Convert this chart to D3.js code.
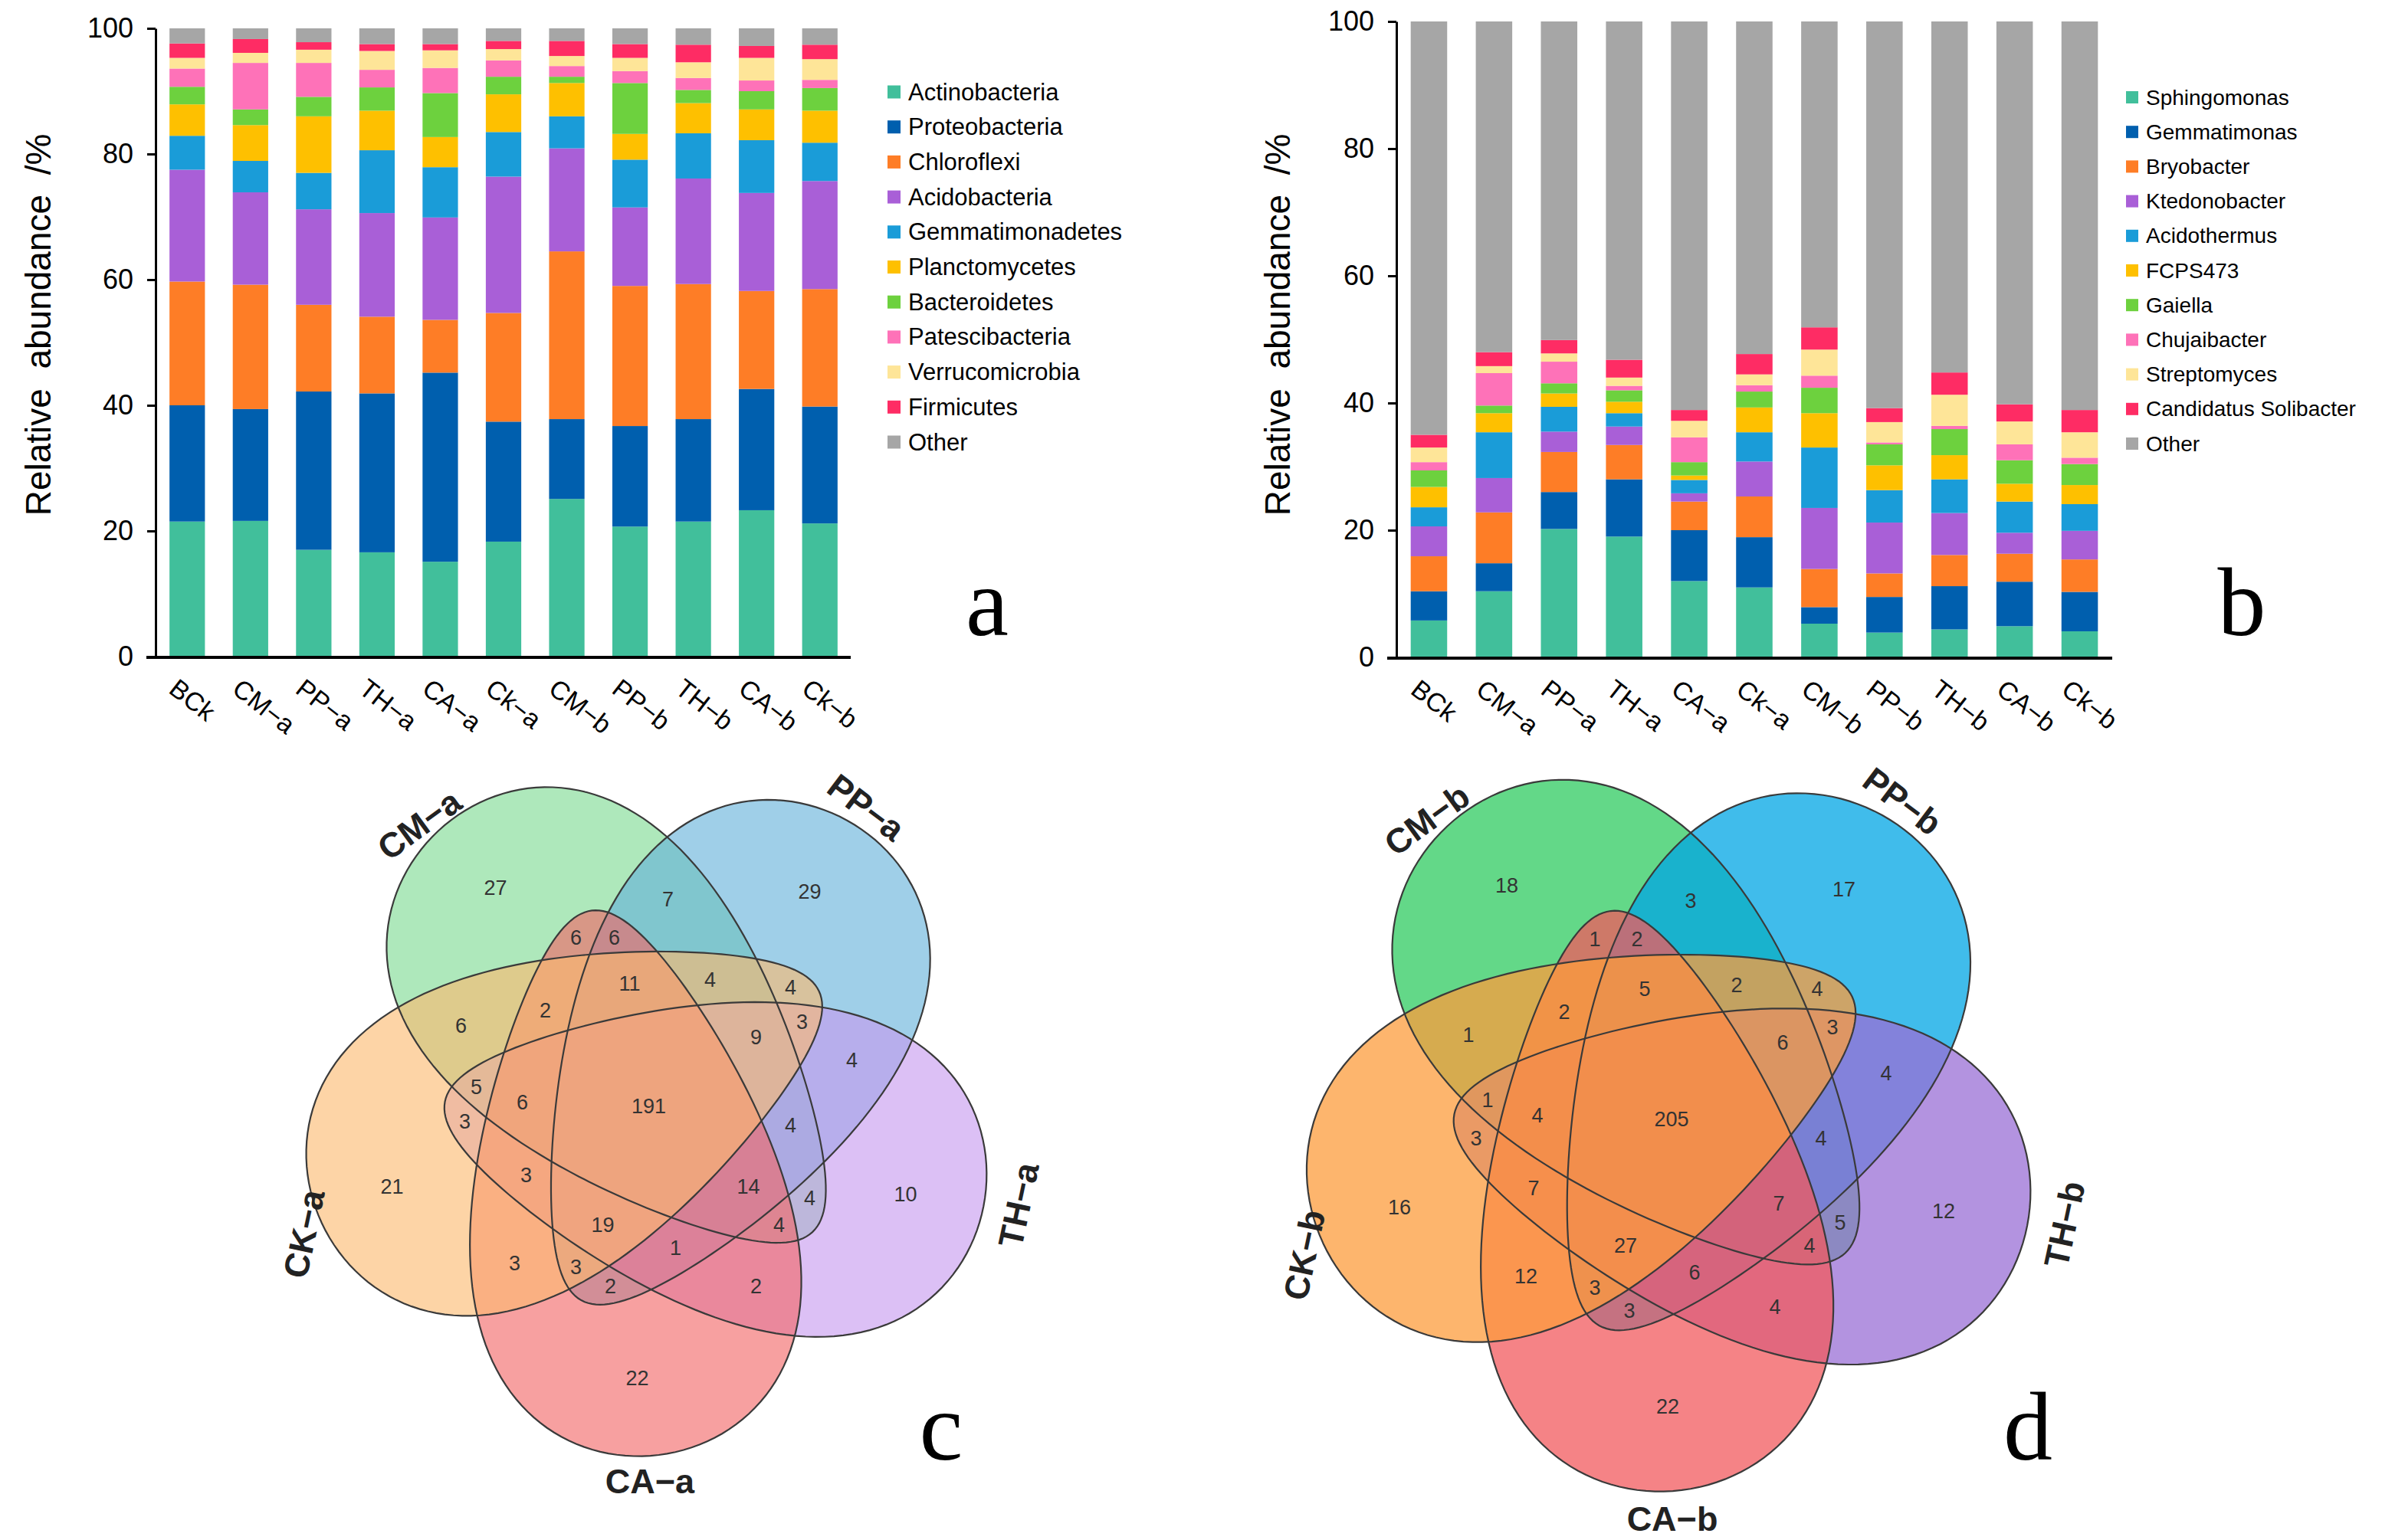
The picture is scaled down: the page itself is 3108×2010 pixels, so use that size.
<!doctype html>
<html>
<head>
  <meta charset="utf-8">
  <title>Community composition and shared OTUs</title>
  <script src="https://cdnjs.cloudflare.com/ajax/libs/d3/7.8.5/d3.min.js"></script>
  <style>
    html, body { margin: 0; padding: 0; background: #fff; }
    svg text { font-family: "Liberation Sans", Arial, sans-serif; }
  </style>
</head>
<body>
<div id="figure"></div>
<script>
// ---- data: bar charts ----
const samples = ["BCk", "CM−a", "PP−a", "TH−a", "CA−a", "Ck−a", "CM−b", "PP−b", "TH−b", "CA−b", "Ck−b"];
const tickValues = [0, 20, 40, 60, 80, 100];

// panel a, phylum level (%)
const phylumNames = ["Actinobacteria", "Proteobacteria", "Chloroflexi", "Acidobacteria", "Gemmatimonadetes",
  "Planctomycetes", "Bacteroidetes", "Patescibacteria", "Verrucomicrobia", "Firmicutes", "Other"];
const actinobacteria   = [21.5, 21.6, 17.0, 16.6, 15.1, 18.3, 25.1, 20.7, 21.5, 23.3, 21.2];
const proteobacteria   = [18.5, 17.8, 25.2, 25.3, 30.1, 19.1, 12.7, 16.0, 16.3, 19.3, 18.6];
const chloroflexi      = [19.7, 19.8, 13.8, 12.2, 8.4, 17.3, 26.7, 22.3, 21.5, 15.6, 18.7];
const acidobacteria    = [17.8, 14.7, 15.2, 16.5, 16.3, 21.7, 16.4, 12.5, 16.8, 15.6, 17.2];
const gemmatimonadetes = [5.4, 5.0, 5.8, 10.0, 8.0, 7.1, 5.1, 7.6, 7.2, 8.4, 6.1];
const planctomycetes   = [5.0, 5.7, 9.0, 6.3, 4.8, 6.0, 5.3, 4.1, 4.8, 4.9, 5.1];
const bacteroidetes    = [2.8, 2.5, 3.1, 3.7, 7.0, 2.8, 1.0, 8.1, 2.1, 2.9, 3.6];
const patescibacteria  = [2.9, 7.4, 5.4, 2.8, 4.0, 2.6, 1.7, 1.9, 1.9, 1.7, 1.3];
const verrucomicrobia  = [1.7, 1.6, 2.1, 3.0, 2.8, 1.8, 1.6, 2.1, 2.5, 3.6, 3.3];
const firmicutes       = [2.3, 2.2, 1.2, 1.1, 1.0, 1.3, 2.4, 2.2, 2.8, 1.9, 2.3];
const otherPhyla       = [2.4, 1.7, 2.2, 2.5, 2.5, 2.0, 2.0, 2.5, 2.6, 2.8, 2.6];

// panel b, genus level (%)
const genusNames = ["Sphingomonas", "Gemmatimonas", "Bryobacter", "Ktedonobacter", "Acidothermus",
  "FCPS473", "Gaiella", "Chujaibacter", "Streptomyces", "Candidatus Solibacter", "Other"];
const sphingomonas  = [5.8, 10.4, 20.2, 19.0, 12.0, 11.0, 5.3, 3.9, 4.4, 4.9, 4.1];
const gemmatimonas  = [4.6, 4.4, 5.8, 9.0, 8.0, 7.9, 2.6, 5.6, 6.8, 7.0, 6.2];
const bryobacter    = [5.5, 8.0, 6.3, 5.4, 4.5, 6.4, 6.0, 3.7, 4.9, 4.4, 5.1];
const ktedonobacter = [4.7, 5.4, 3.2, 2.9, 1.3, 5.5, 9.6, 8.0, 6.6, 3.3, 4.5];
const acidothermus  = [3.0, 7.2, 3.9, 2.1, 2.1, 4.6, 9.5, 5.1, 5.3, 4.9, 4.2];
const fcps473       = [3.2, 3.0, 2.1, 1.8, 0.7, 3.9, 5.4, 3.9, 3.8, 2.8, 3.0];
const gaiella       = [2.6, 1.2, 1.6, 1.8, 2.1, 2.5, 4.0, 3.3, 4.1, 3.7, 3.3];
const chujaibacter  = [1.3, 5.1, 3.4, 0.7, 3.9, 1.0, 1.9, 0.3, 0.5, 2.5, 1.0];
const streptomyces  = [2.3, 1.1, 1.3, 1.3, 2.6, 1.7, 4.1, 3.2, 4.9, 3.6, 4.0];
const solibacter    = [2.0, 2.2, 2.1, 2.8, 1.7, 3.2, 3.5, 2.2, 3.5, 2.7, 3.5];
const otherGenera   = [65.0, 52.0, 50.1, 53.2, 61.1, 52.3, 48.1, 60.8, 55.2, 60.2, 61.1];

const taxonColors = ["#41bf9b", "#005fae", "#fe7d26", "#a95fd7", "#1a9cd8", "#fec000",
  "#6dd13e", "#fe72b8", "#fee598", "#fe2c64", "#a6a6a6"];

// ---- data: Venn diagrams (unique / shared OTUs) ----
const vennSetsA = ["CM−a", "PP−a", "TH−a", "CA−a", "CK−a"];
const vennSetsB = ["CM−b", "PP−b", "TH−b", "CA−b", "CK−b"];
// each region lists the sets (by index) it belongs to
const vennRegions = [
  [0], [1], [2], [3], [4],
  [0, 1], [1, 2], [0, 4], [2, 3], [3, 4], [0, 3], [1, 4], [2, 4], [0, 2], [1, 3],
  [0, 1, 4], [0, 3, 4], [0, 1, 2], [1, 2, 3], [2, 3, 4], [0, 1, 3], [1, 2, 4], [0, 2, 4], [1, 3, 4], [0, 2, 3],
  [0, 1, 3, 4], [0, 1, 2, 4], [0, 2, 3, 4], [0, 1, 2, 3], [1, 2, 3, 4],
  [0, 1, 2, 3, 4]
];
const vennCountsA = [27, 29, 10, 22, 21, 7, 4, 6, 2, 3, 6, 4, 3, 4, 2,
  4, 2, 4, 1, 3, 6, 3, 5, 3, 4, 11, 9, 6, 14, 19, 191];
const vennCountsB = [18, 17, 12, 22, 16, 3, 4, 1, 4, 12, 1, 4, 3, 5, 3,
  2, 2, 4, 6, 7, 2, 3, 1, 3, 4, 5, 6, 4, 7, 27, 205];

// ---- drawing ----
const W = 3108, H = 2010;
const svg = d3.select('#figure').append('svg')
  .attr('width', W).attr('height', H)
  .attr('viewBox', `0 0 ${W} ${H}`);

function drawBars(cfg) {
  const g = svg.append('g');
  const rows = samples.map((s, i) => {
    const r = { sample: s };
    cfg.names.forEach((n, k) => { r[n] = cfg.series[k][i]; });
    return r;
  });
  const layers = d3.stack().keys(cfg.names)(rows);

  const x = d3.scaleBand().domain(samples).range(cfg.xRange)
    .paddingInner(0.44).paddingOuter(0.22);
  const y = d3.scaleLinear().domain([0, 100]).range(cfg.yRange);
  const color = d3.scaleOrdinal().domain(cfg.names).range(taxonColors);

  g.selectAll('g.layer')
    .data(layers)
    .join('g')
    .attr('class', 'layer')
    .attr('fill', d => color(d.key))
    .selectAll('rect')
    .data(d => d)
    .join('rect')
    .attr('x', d => x(d.data.sample))
    .attr('width', x.bandwidth())
    .attr('y', d => y(d[1]))
    .attr('height', d => y(d[0]) - y(d[1]));

  // y axis
  const yAxis = g.append('g')
    .attr('transform', `translate(${cfg.xRange[0]},0)`)
    .call(d3.axisLeft(y).tickValues(tickValues).tickSize(11).tickSizeOuter(0).tickPadding(18));
  yAxis.select('.domain').attr('stroke', '#000').attr('stroke-width', 3);
  yAxis.selectAll('.tick line').attr('stroke', '#000').attr('stroke-width', 3);
  yAxis.selectAll('.tick text')
    .attr('font-size', 36).attr('fill', '#000')
    .attr('font-family', '"Liberation Sans", Arial, sans-serif');

  // x axis
  const xAxis = g.append('g')
    .attr('transform', `translate(0,${cfg.yRange[0]})`)
    .call(d3.axisBottom(x).tickSize(0).tickSizeOuter(0));
  xAxis.select('.domain')
    .attr('stroke', '#000').attr('stroke-width', 4)
    .attr('d', `M${cfg.axisExtent[0]},1H${cfg.axisExtent[1]}`);
  xAxis.selectAll('.tick text')
    .attr('font-size', 34).attr('fill', '#000')
    .attr('font-family', '"Liberation Sans", Arial, sans-serif')
    .attr('text-anchor', 'start')
    .attr('x', 0).attr('y', 0).attr('dy', '0.75em')
    .attr('transform', 'translate(-10,26) rotate(38)');

  // y title
  g.append('text')
    .attr('transform', `translate(${cfg.titleX},424) rotate(-90)`)
    .attr('text-anchor', 'middle')
    .attr('dominant-baseline', 'central')
    .attr('font-size', 46)
    .style('white-space', 'pre')
    .text('Relative  abundance  /%');

  // legend
  const leg = g.append('g');
  const items = leg.selectAll('g')
    .data(cfg.names)
    .join('g')
    .attr('transform', (d, i) => `translate(${cfg.legend.x},${cfg.legend.y0 + i * cfg.legend.dy})`);
  items.append('rect')
    .attr('x', 0).attr('y', -cfg.legend.box / 2)
    .attr('width', cfg.legend.box).attr('height', cfg.legend.box)
    .attr('fill', d => color(d));
  items.append('text')
    .attr('x', cfg.legend.box + 10)
    .attr('dominant-baseline', 'central')
    .attr('font-size', cfg.legend.font)
    .attr('fill', '#000')
    .text(d => d);

  // panel letter
  g.append('text')
    .attr('x', cfg.letter[0]).attr('y', cfg.letter[1])
    .attr('text-anchor', 'middle')
    .style('font-family', '"Liberation Serif", "Times New Roman", serif')
    .attr('font-size', 126)
    .text(cfg.letterText);
}

drawBars({
  names: phylumNames,
  series: [actinobacteria, proteobacteria, chloroflexi, acidobacteria, gemmatimonadetes,
    planctomycetes, bacteroidetes, patescibacteria, verrucomicrobia, firmicutes, otherPhyla],
  xRange: [203, 1111], yRange: [857, 37], axisExtent: [191, 1110],
  titleX: 50,
  legend: { x: 1158, y0: 120, dy: 45.7, box: 17, font: 31 },
  letter: [1288, 829], letterText: 'a'
});

drawBars({
  names: genusNames,
  series: [sphingomonas, gemmatimonas, bryobacter, ktedonobacter, acidothermus,
    fcps473, gaiella, chujaibacter, streptomyces, solibacter, otherGenera],
  xRange: [1822, 2756], yRange: [858, 28], axisExtent: [1810, 2756],
  titleX: 1667,
  legend: { x: 2774, y0: 127, dy: 45.2, box: 16, font: 28 },
  letter: [2925, 829], letterText: 'b'
});

// ---- Venn ----
// five congruent egg shapes (fat at the outer lobe), rotated 72 degrees apart; sizes in units of U
const EGG = { dist: 0.138, a: 0.476, b: 0.268, k: 0.39, twist: 25, n: 160 };
const setLabelPos = [
  { dx: -0.40, dy: -0.49, rot: -36 },
  { dx: 0.375, dy: -0.52, rot: 37 },
  { dx: 0.64, dy: 0.17, rot: -78 },
  { dx: 0.0, dy: 0.65, rot: 0 },
  { dx: -0.60, dy: 0.22, rot: -78 }
];

function drawVenn(cfg) {
  const g = svg.append('g');
  const U = cfg.U, A = EGG.a * U, B = EGG.b * U, D = EGG.dist * U;
  const shapes = cfg.sets.map((name, i) => {
    const phiDeg = -108 + 72 * i;
    const phi = phiDeg * Math.PI / 180;
    const r = (phiDeg - EGG.twist) * Math.PI / 180;
    const cx = cfg.cx + D * Math.cos(phi), cy = cfg.cy + D * Math.sin(phi);
    const c = Math.cos(r), s = Math.sin(r);
    const pts = d3.range(EGG.n).map(j => {
      const t = 2 * Math.PI * j / EGG.n;
      const u = A * Math.cos(t);
      const v = B * Math.sin(t) * (1 + EGG.k * Math.cos(t));
      return [cx + u * c - v * s, cy + u * s + v * c];
    });
    return { name, i, pts, color: cfg.colors[i] };
  });

  const line = d3.line().curve(d3.curveLinearClosed);

  g.selectAll('path.fill')
    .data(shapes)
    .join('path')
    .attr('class', 'fill')
    .attr('d', d => line(d.pts))
    .attr('fill', d => d.color)
    .attr('fill-opacity', cfg.opacity);

  g.selectAll('path.edge')
    .data(shapes)
    .join('path')
    .attr('class', 'edge')
    .attr('d', d => line(d.pts))
    .attr('fill', 'none')
    .attr('stroke', '#3a3a3a')
    .attr('stroke-width', 2.2);

  // find a roomy spot inside every region
  function segDist(px, py, a, b) {
    const vx = b[0] - a[0], vy = b[1] - a[1];
    const wx = px - a[0], wy = py - a[1];
    let t = (wx * vx + wy * vy) / (vx * vx + vy * vy);
    t = Math.max(0, Math.min(1, t));
    const dx = wx - t * vx, dy = wy - t * vy;
    return dx * dx + dy * dy;
  }
  const best = new Map();
  const step = 5, half = 0.72 * U;
  for (let px = cfg.cx - half; px <= cfg.cx + half; px += step) {
    for (let py = cfg.cy - half; py <= cfg.cy + half; py += step) {
      let mask = 0, clear = Infinity;
      shapes.forEach(sh => {
        if (d3.polygonContains(sh.pts, [px, py])) mask |= (1 << sh.i);
        for (let j = 0; j < sh.pts.length; j++) {
          const d2 = segDist(px, py, sh.pts[j], sh.pts[(j + 1) % sh.pts.length]);
          if (d2 < clear) clear = d2;
        }
      });
      if (!mask) continue;
      const cur = best.get(mask);
      if (!cur || clear > cur.clear) best.set(mask, { x: px, y: py, clear });
    }
  }

  const labels = vennRegions.map((sets, k) => {
    const mask = sets.reduce((m, s) => m | (1 << s), 0);
    return { count: cfg.counts[k], pos: best.get(mask) };
  });
  const missing = labels.filter(d => !d.pos).length;
  if (missing) console.warn('Venn regions not found:', missing);

  g.selectAll('text.count')
    .data(labels.filter(d => d.pos))
    .join('text')
    .attr('class', 'count')
    .attr('x', d => d.pos.x).attr('y', d => d.pos.y)
    .attr('text-anchor', 'middle')
    .attr('dominant-baseline', 'central')
    .attr('font-size', 27)
    .attr('fill', '#333')
    .text(d => d.count);

  g.selectAll('text.setname')
    .data(cfg.sets)
    .join('text')
    .attr('class', 'setname')
    .attr('transform', (d, i) => {
      const p = setLabelPos[i];
      return `translate(${cfg.cx + p.dx * U},${cfg.cy + p.dy * U}) rotate(${p.rot})`;
    })
    .attr('text-anchor', 'middle')
    .attr('dominant-baseline', 'central')
    .attr('font-size', 45)
    .attr('font-weight', 'bold')
    .attr('fill', '#222')
    .text(d => d);

  g.append('text')
    .attr('x', cfg.letter[0]).attr('y', cfg.letter[1])
    .attr('text-anchor', 'middle')
    .style('font-family', '"Liberation Serif", "Times New Roman", serif')
    .attr('font-size', 128)
    .text(cfg.letterText);
}

drawVenn({
  sets: vennSetsA, counts: vennCountsA,
  cx: 848, cy: 1445, U: 752,
  colors: ["#7cda91", "#64b2da", "#c799ef", "#f26666", "#fcba70"],
  opacity: 0.62,
  letter: [1228, 1905], letterText: 'c'
});

drawVenn({
  sets: vennSetsB, counts: vennCountsB,
  cx: 2182, cy: 1462, U: 800,
  colors: ["#2fcb60", "#00a6e4", "#9a6fd5", "#f25a5e", "#fc9c3c"],
  opacity: 0.75,
  letter: [2646, 1905], letterText: 'd'
});
</script>
</body>
</html>
